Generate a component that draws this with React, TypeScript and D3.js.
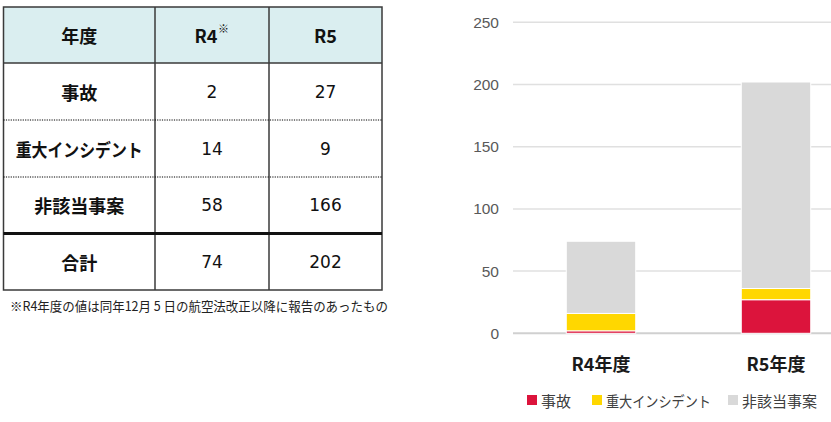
import React from "react";
import * as d3 from "d3";

const years = ["R4", "R5"];
const xLabels = ["R4年度", "R5年度"];
const categories = ["事故", "重大インシデント", "非該当事案"];
const accidents = [2, 27];
const incidents = [14, 9];
const nonApplicable = [58, 166];
const yTicks = [0, 50, 100, 150, 200, 250];
const colors = ["#DC143C", "#FFD700", "#D9D9D9"];
const footnote = "※R4年度の値は同年12月 5 日の航空法改正以降に報告のあったもの";

const W = 831;
const H = 422;

const JP = "'Noto Sans CJK JP', sans-serif";
const NUM = "'DejaVu Sans', 'Noto Sans CJK JP', sans-serif";
const AX = "'Liberation Sans', Arial, sans-serif";

export default function App() {
  const series = [accidents, incidents, nonApplicable];
  const rows = years.map((y, i) => ({
    year: xLabels[i],
    a: accidents[i],
    b: incidents[i],
    c: nonApplicable[i],
  }));
  const stack = d3.stack<any>().keys(["a", "b", "c"]);
  const stacked = stack(rows);
  const totals = years.map((_, i) => d3.sum(series, (s) => s[i]));

  const y = d3.scaleLinear().domain([0, 250]).range([333.3, 22.3]);
  const x = d3
    .scaleBand()
    .domain(xLabels)
    .range([513.5, 863.5])
    .paddingInner(0.603)
    .paddingOuter(0.3015);
  // table geometry
  const colX = [3.5, 155, 269, 382];
  const rowY = [7, 63, 120, 177, 233.5, 290];
  const colC = [0, 1, 2].map((i) => (colX[i] + colX[i + 1]) / 2);
  const rowC = [0, 1, 2, 3, 4].map((i) => (rowY[i] + rowY[i + 1]) / 2);
  const lineCol = "#3a3a3a";

  const tableRows = [
    { label: categories[0], vals: accidents },
    { label: categories[1], vals: incidents },
    { label: categories[2], vals: nonApplicable },
    { label: "合計", vals: totals },
  ];

  const legendX = [527, 592, 728];

  return (
    <svg
      width={W}
      height={H}
      style={{ position: "absolute", left: 0, top: 0, background: "#fff" }}
    >
      <rect x={0} y={0} width={W} height={H} fill="#fff" />
      {/* table */}
      <rect x={colX[0]} y={rowY[0]} width={colX[3] - colX[0]} height={rowY[1] - rowY[0]} fill="#DAEEF0" />
      <text x={colC[0]} y={rowC[0]} textAnchor="middle" dominantBaseline="central" fontFamily={JP} fontWeight={700} fontSize={18} fill="#111">年度</text>
      <text x={colC[1] - 6} y={rowC[0]} textAnchor="middle" dominantBaseline="central" fontFamily={JP} fontWeight={700} fontSize={18} fill="#111">{years[0]}</text>
      <text x={colC[1] + 6} y={rowC[0] - 7} textAnchor="start" dominantBaseline="central" fontFamily={JP} fontWeight={400} fontSize={11} fill="#111">※</text>
      <text x={colC[2]} y={rowC[0]} textAnchor="middle" dominantBaseline="central" fontFamily={JP} fontWeight={700} fontSize={18} fill="#111">{years[1]}</text>
      {tableRows.map((r, i) => (
        <g key={i}>
          <text
            x={colC[0]}
            y={rowC[i + 1]}
            textAnchor="middle"
            dominantBaseline="central"
            fontFamily={JP}
            fontWeight={700}
            fontSize={18}
            fill="#111"
            {...(r.label.length === 8 ? { textLength: 127, lengthAdjust: "spacingAndGlyphs" } : {})}
          >
            {r.label}
          </text>
          {r.vals.map((v, j) => (
            <text key={j} x={colC[j + 1]} y={rowC[i + 1]} textAnchor="middle" dominantBaseline="central" fontFamily={NUM} fontSize={17} fill="#111">
              {v}
            </text>
          ))}
        </g>
      ))}
      {/* lines */}
      <rect x={colX[0]} y={rowY[0]} width={colX[3] - colX[0]} height={rowY[5] - rowY[0]} fill="none" stroke={lineCol} strokeWidth={1.5} />
      {[1, 2].map((i) => (
        <line key={i} x1={colX[i]} x2={colX[i]} y1={rowY[0]} y2={rowY[5]} stroke={lineCol} strokeWidth={1.5} />
      ))}
      <line x1={colX[0]} x2={colX[3]} y1={rowY[1]} y2={rowY[1]} stroke={lineCol} strokeWidth={1.5} />
      {[2, 3].map((i) => (
        <line key={i} x1={colX[0]} x2={colX[3]} y1={rowY[i]} y2={rowY[i]} stroke="#000" strokeWidth={1} strokeDasharray="1.2,1.2" />
      ))}
      <line x1={colX[0]} x2={colX[3]} y1={rowY[4]} y2={rowY[4]} stroke="#111" strokeWidth={3} />
      <text x={10} y={305} dominantBaseline="central" fontFamily={JP} fontSize={13} fill="#222" textLength={378} lengthAdjust="spacingAndGlyphs">
        {footnote}
      </text>

      {/* chart */}
      {yTicks.map((t) => (
        <g key={t}>
          <line x1={513} x2={W} y1={y(t)} y2={y(t)} stroke={t === 0 ? "#d0d0d0" : "#e0e0e0"} strokeWidth={t === 0 ? 2 : 1.5} />
          <text x={499} y={y(t)} textAnchor="end" dominantBaseline="central" fontFamily={AX} fontSize={15.5} fill="#595959">
            {t}
          </text>
        </g>
      ))}
      {stacked.map((s, si) => (
        <g key={si}>
          {s.map((d, di) => (
            <rect
              key={di}
              x={x(xLabels[di])!}
              y={y(d[1])}
              width={x.bandwidth()}
              height={y(d[0]) - y(d[1])}
              fill={colors[si]}
              stroke="#fff"
              strokeWidth={1}
            />
          ))}
        </g>
      ))}
      {xLabels.map((l) => (
        <text key={l} x={x(l)! + x.bandwidth() / 2} y={363} textAnchor="middle" dominantBaseline="central" fontFamily={JP} fontWeight={700} fontSize={18} fill="#1a1a1a">
          {l}
        </text>
      ))}
      {categories.map((c, i) => (
        <g key={c}>
          <rect x={legendX[i]} y={395} width={10} height={10} fill={colors[i]} />
          <text
            x={legendX[i] + 14}
            y={400}
            dominantBaseline="central"
            fontFamily={JP}
            fontSize={15}
            fill="#404040"
            {...(c.length === 8 ? { textLength: 105, lengthAdjust: "spacingAndGlyphs" } : {})}
          >
            {c}
          </text>
        </g>
      ))}
    </svg>
  );
}
